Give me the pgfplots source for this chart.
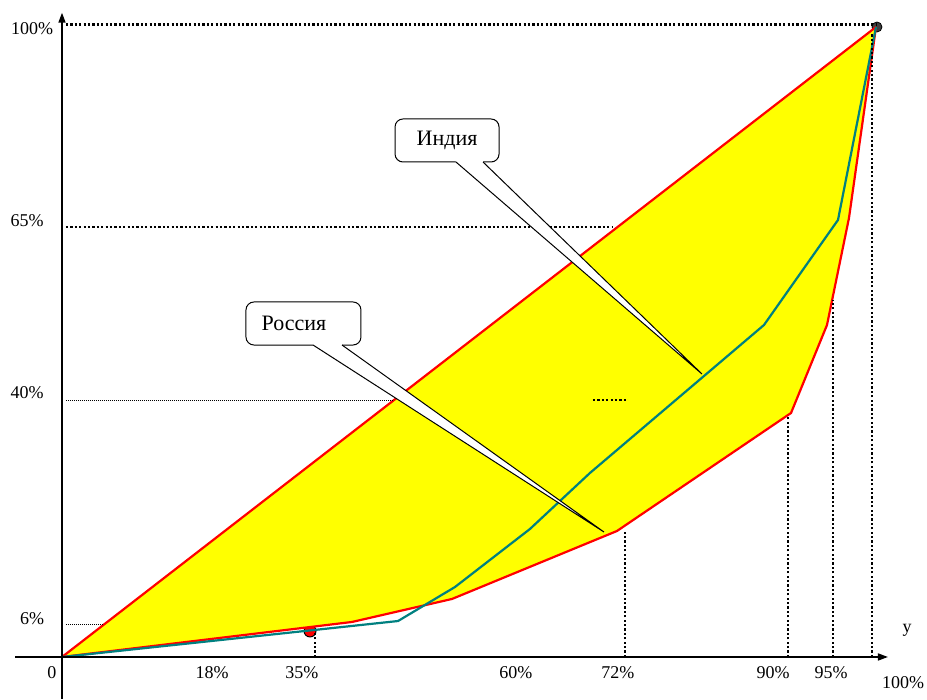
\documentclass[border=0pt]{standalone}
\usepackage{fontspec}
\setmainfont{Liberation Serif}
\usepackage{pgfplots}
\pgfplotsset{compat=1.18}
\usetikzlibrary{arrows.meta}

\definecolor{lzred}{RGB}{255,0,0}
\definecolor{lzteal}{RGB}{0,128,128}
\definecolor{lzyellow}{RGB}{255,255,0}

\tikzset{
  thickdot/.style={line width=1.3pt, dash pattern=on 1.1pt off 1.1pt},
  thindot/.style={line width=0.5pt, dash pattern=on 0.5pt off 0.5pt},
  lbl/.style={font=\fontsize{9}{11}\selectfont, inner sep=0pt},
  clbl/.style={font=\fontsize{11}{13}\selectfont, inner sep=0pt},
}

\begin{document}
\begin{tikzpicture}
  \begin{axis}[
      hide axis,
      scale only axis,
      width=463.5pt, height=349.5pt,
      xmin=-7.617, xmax=106.265,
      ymin=-6.667, ymax=104.286,
      clip=false,
      clip marker paths=true,
    ]
    \path (rel axis cs:0,0) rectangle (rel axis cs:1,1);

    % points under the fill
    \addplot[only marks, mark=*, mark size=3pt,
      mark options={fill=lzred, draw=black, line width=0.5pt}]
      coordinates {(30.47,4.13)};
    \addplot[only marks, mark=*, mark size=2.5pt,
      mark options={fill=black!75, draw=black}]
      coordinates {(100.12,100)};

    % area between equality line and lorenz curve
    \addplot[fill=lzyellow, draw=none] coordinates {
        (0,0) (35.63,5.56) (47.91,9.21) (68.18,20.0) (89.56,38.73)
        (93.98,52.70) (96.68,69.68) (100,100)
      } -- cycle;

    % equality line
    \addplot[lzred, line width=1.1pt] coordinates {(0,0) (100,100)};
    % Россия
    \addplot[lzred, line width=1.1pt] coordinates {
        (0,0) (35.63,5.56) (47.91,9.21) (68.18,20.0) (89.56,38.73)
        (93.98,52.70) (96.68,69.68) (100,100)
      };
    % Индия
    \addplot[lzteal, line width=1.1pt] coordinates {
        (0,0) (41.28,5.71) (48.28,11.11) (57.49,20.32) (64.86,29.21)
        (86.24,52.70) (95.33,69.37) (100,100)
      };

    % guide lines
    \addplot[thickdot] coordinates {(0.49,100.43) (100,100.43)};
    \addplot[thickdot] coordinates {(99.51,0) (99.51,99)};
    \addplot[thickdot] coordinates {(94.72,0) (94.72,56.67)};
    \addplot[thickdot] coordinates {(89.19,0) (89.19,38.4)};
    \addplot[thickdot] coordinates {(69.16,0) (69.16,20.0)};
    \addplot[thickdot] coordinates {(31.08,0) (31.08,3.97)};
    \addplot[thickdot] coordinates {(0.49,68.25) (67.69,68.25)};
    \addplot[thindot]  coordinates {(0.49,40.79) (40.66,40.79)};
    \addplot[thickdot] coordinates {(65.23,40.79) (69.53,40.79)};
    \addplot[thindot]  coordinates {(0.49,5.08) (5.04,5.08)};

    % callouts
    \draw[fill=white, line width=0.5pt, rounded corners=4pt]
      (axis cs:40.91,78.57) rectangle (axis cs:53.69,85.40);
    \fill[white] (axis cs:48.40,79.2) -- (axis cs:48.40,78.57) -- (axis cs:78.62,44.92)
      -- (axis cs:51.72,78.57) -- (axis cs:51.72,79.2) -- cycle;
    \draw[line width=0.5pt] (axis cs:48.40,78.57) -- (axis cs:78.62,44.92) -- (axis cs:51.72,78.57);
    \node[clbl] at (axis cs:47.30,82.06) {Индия};

    \draw[fill=white, line width=0.5pt, rounded corners=4pt]
      (axis cs:22.60,49.52) rectangle (axis cs:36.73,56.35);
    \fill[white] (axis cs:30.84,50.15) -- (axis cs:30.84,49.52) -- (axis cs:66.58,19.84)
      -- (axis cs:34.40,49.52) -- (axis cs:34.40,50.15) -- cycle;
    \draw[line width=0.5pt] (axis cs:30.84,49.52) -- (axis cs:66.58,19.84) -- (axis cs:34.40,49.52);
    \node[clbl] at (axis cs:28.50,53.02) {Россия};

    % axes
    \draw[line width=0.8pt, -{Triangle[length=5pt,width=3.5pt]}]
      (axis cs:-5.774,0) -- (axis cs:101.47,0);
    \draw[line width=0.8pt, -{Triangle[length=5pt,width=3.5pt]}]
      (axis cs:0,-6.667) -- (axis cs:0,102.27);

    % labels
    \node[lbl] at (axis cs:-1.229,-2.54) {0};
    \node[lbl] at (axis cs:18.43,-2.54) {18\%};
    \node[lbl] at (axis cs:29.48,-2.54) {35\%};
    \node[lbl] at (axis cs:55.77,-2.54) {60\%};
    \node[lbl] at (axis cs:68.30,-2.54) {72\%};
    \node[lbl] at (axis cs:87.35,-2.54) {90\%};
    \node[lbl] at (axis cs:94.47,-2.54) {95\%};
    \node[lbl] at (axis cs:103.32,-4.127) {100\%};
    \node[lbl] at (axis cs:103.81,4.286) {у};
    \node[lbl] at (axis cs:-3.686,99.68) {100\%};
    \node[lbl] at (axis cs:-4.30,69.21) {65\%};
    \node[lbl] at (axis cs:-4.30,41.90) {40\%};
    \node[lbl] at (axis cs:-3.686,6.03) {6\%};
  \end{axis}
\end{tikzpicture}
\end{document}
